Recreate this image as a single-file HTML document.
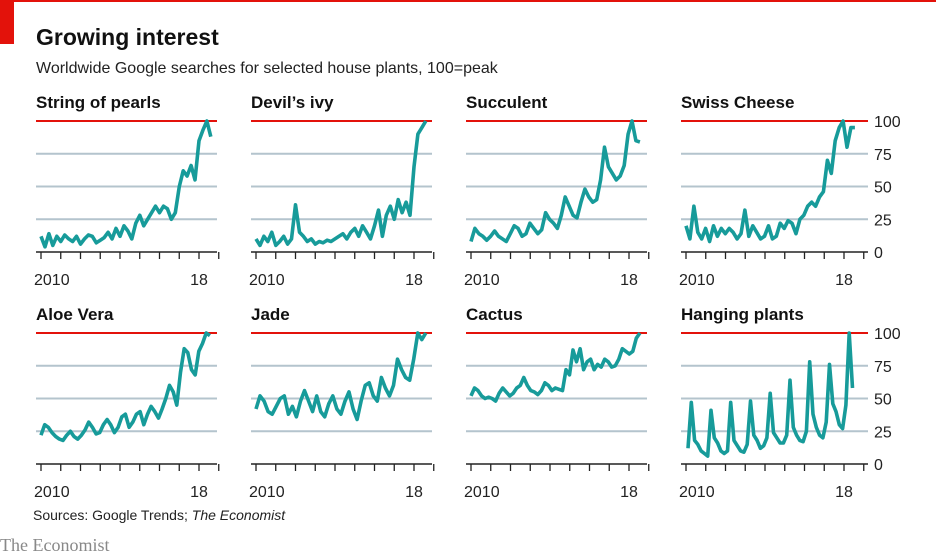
<!DOCTYPE html>
<html><head><meta charset="utf-8">
<style>
html,body{margin:0;padding:0;background:#fff;width:936px;height:558px;overflow:hidden}
svg{display:block}
text{font-family:"Liberation Sans",sans-serif}
</style></head>
<body>
<svg id="chart" width="936" height="558" xmlns="http://www.w3.org/2000/svg">
  <rect x="0" y="0" width="936" height="2" fill="#e3120b"/>
  <rect x="0" y="0" width="14" height="44" fill="#e3120b"/>
  <text x="36" y="45" font-size="23" font-weight="bold" fill="#111">Growing interest</text>
  <text x="36" y="73" font-size="16" fill="#222">Worldwide Google searches for selected house plants, 100=peak</text>
  <text x="33" y="520" font-size="14" fill="#222">Sources: Google Trends; <tspan font-style="italic">The Economist</tspan></text>
  <text x="0" y="551" font-size="18" fill="#888" style="font-family:'Liberation Serif',serif">The Economist</text>
  <g id="panels"></g>
</svg>
<script>
const titles = ["String of pearls","Devil\u2019s ivy","Succulent","Swiss Cheese","Aloe Vera","Jade","Cactus","Hanging plants"];
const yTicks = [0,25,50,75,100];
const yearTicks = [2010,2011,2012,2013,2014,2015,2016,2017,2018,2019];
const startYears = [2010,2010,2010,2010,2010,2010,2010,2010.1];
const endYears = [2018.6,2018.6,2018.55,2018.55,2018.55,2018.6,2018.55,2018.43];
const sPearls = [12,4,14,5,12,8,13,10,8,12,6,10,13,12,7,9,11,15,10,18,12,20,16,10,22,28,20,25,30,35,30,35,33,25,30,50,62,58,66,55,85,93,100,88];
const sIvy = [10,5,12,8,15,5,8,12,6,10,36,15,12,8,10,6,8,7,9,8,10,12,14,10,15,18,12,20,15,10,20,32,12,28,35,25,40,30,38,28,65,90,95,100];
const sSucc = [8,18,14,12,9,12,16,12,10,8,14,20,18,12,14,22,18,14,17,30,25,22,18,28,42,35,28,26,38,48,42,38,40,55,80,65,60,55,58,66,90,100,85,84];
const sSwiss = [20,10,35,15,10,18,8,20,12,18,14,18,15,10,14,32,12,20,15,10,12,20,10,12,22,18,24,22,14,25,28,35,38,35,42,46,70,60,85,95,100,80,95,95];
const sAloe = [22,30,28,24,21,19,18,22,25,21,19,22,26,32,28,23,24,30,34,30,24,28,36,38,28,32,38,40,30,38,44,40,35,42,50,60,55,45,70,88,85,72,68,86,92,100,98];
const sJade = [42,52,48,40,38,44,50,52,38,44,36,48,56,48,40,52,40,36,46,52,42,38,48,55,42,34,48,60,62,52,48,66,58,52,60,80,72,66,64,80,100,95,100];
const sCactus = [52,58,56,52,50,51,50,48,54,58,55,52,54,58,60,66,60,56,55,53,56,62,60,56,58,57,56,72,68,87,78,88,72,78,80,72,76,74,80,78,74,75,80,88,86,84,86,96,100];
const sHang = [12,47,18,15,10,8, 6,41,20,16,10,8, 10,47,18,14,10,9, 15,48,22,18,12,14, 20,54,24,20,16,16, 22,64,28,22,18,17, 25,78,38,28,22,20, 32,76,46,40,30,27, 45,100,58];
const series = [sPearls,sIvy,sSucc,sSwiss,sAloe,sJade,sCactus,sHang];

const NS = "http://www.w3.org/2000/svg";
const root = document.getElementById("panels");
const colLeft = [36,251,466,681];
const rowTop = [121,333];
const H = 131;
function mk(tag, attrs, parent){const e=document.createElementNS(NS,tag);for(const k in attrs)e.setAttribute(k,attrs[k]);parent.appendChild(e);return e;}

titles.forEach((t,i)=>{
  const col=i%4,row=Math.floor(i/4);
  const L=colLeft[col],top=rowTop[row],bottom=top+H;
  const W = col===3?187:181;
  const xs = yr=>L+5+(yr-2010)*19.75;
  const ys = v=>bottom-v/100*H;
  const g=mk("g",{},root);
  
  
  const tt=mk("text",{x:L,y:top-13,"font-size":17,"font-weight":"bold",fill:"#111"},g);
  tt.textContent=t;
  
  
  yTicks.forEach(v=>{
    const color = v===100?"#e3120b":(v===0?"#222":"#b4c4cd");
    const ln=mk("line",{x1:L,x2:L+W,y1:ys(v),y2:ys(v),stroke:color,"stroke-width":v===0?1.5:2},g);
    
    
    if(col===3){
      const lb=mk("text",{x:L+W+6,y:ys(v)+6,"font-size":16,fill:"#222"},g);
      lb.textContent=v;
      
      
    }
  });
  yearTicks.forEach(yr=>{
    const tk=mk("line",{x1:xs(yr),x2:xs(yr),y1:bottom,y2:bottom+7,stroke:"#222","stroke-width":1.3},g);
    
    
  });
  const l1=mk("text",{x:xs(2010)-7,y:bottom+33,"font-size":16,fill:"#222"},g);
  l1.textContent="2010";
  
  
  const l2=mk("text",{x:xs(2018),y:bottom+33,"font-size":16,fill:"#222","text-anchor":"middle"},g);
  l2.textContent="18";
  
  
  const d=series[i],n=d.length,s0=startYears[i],s1=endYears[i];
  const pts=d.map((v,k)=>xs(s0+(s1-s0)*k/(n-1)).toFixed(1)+","+ys(v).toFixed(1)).join(" ");
  const pl=mk("polyline",{points:pts,fill:"none",stroke:"#179b9a","stroke-width":3.6,"stroke-linejoin":"round","stroke-linecap":"butt"},g);
  
  
});
</script>
</body></html>
